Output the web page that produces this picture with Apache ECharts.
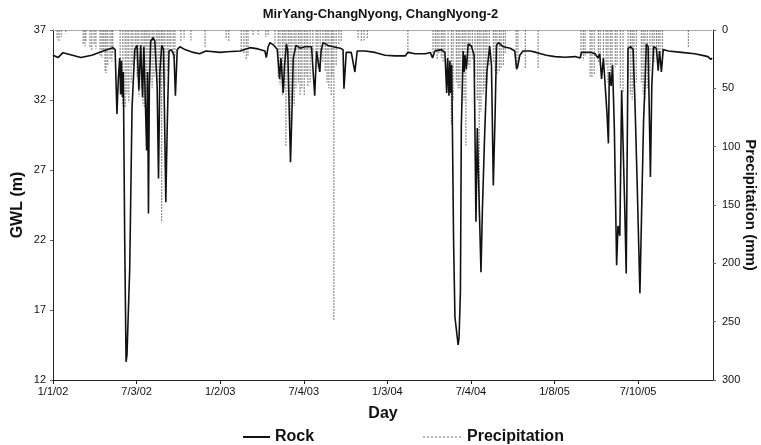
<!DOCTYPE html>
<html>
<head>
<meta charset="utf-8">
<script src="https://cdn.jsdelivr.net/npm/echarts@6/dist/echarts.min.js"></script>
<style>html,body{margin:0;padding:0;background:#fff}#c{width:761px;height:445px}</style>
</head>
<body>
<div id="c"></div>
<script>
// Day index (0 = 1/1/02) for each labelled tick, and its label
const TICK_STEP = 183;
const TICK_LABELS = ['1/1/02','7/3/02','1/2/03','7/4/03','1/3/04','7/4/04','1/8/05','7/10/05'];
const DAY_MAX = 1445;
const GWL_TICKS = [12, 17, 22, 27, 32, 37];
const PRECIP_TICKS = [0, 50, 100, 150, 200, 250, 300];

// Rock groundwater level (m): [day index, GWL]
const ROCK = [[0,35.2],[11,35.03],[22,35.38],[61,35.03],[85,35.2],[110,35.5],[131,35.74],[136,35.6],[140,31.0],[143,33.5],[146,35.0],[148,32.4],[150,34.8],[152,32.2],[154,34.0],[157,22.0],[160,13.3],[162,13.8],[168,20.0],[173,31.4],[179,35.6],[184,35.9],[188,32.7],[192,35.9],[196,32.2],[199,35.8],[205,28.4],[207,34.0],[209,23.9],[211,33.0],[214,36.2],[219,36.45],[223,36.2],[228,33.0],[231,26.4],[234,34.0],[238,35.9],[242,35.6],[247,24.7],[250,30.0],[254,35.5],[259,35.6],[265,35.2],[268,32.3],[272,35.6],[278,35.8],[289,35.6],[307,35.4],[321,35.3],[335,35.5],[366,35.4],[381,35.45],[410,35.5],[431,35.74],[449,35.65],[464,35.5],[467,35.03],[471,35.8],[475,36.1],[484,35.9],[491,35.6],[496,33.5],[499,35.0],[504,32.5],[507,34.5],[511,36.0],[514,35.5],[520,27.55],[523,31.0],[526,35.0],[532,35.9],[541,35.7],[552,35.8],[566,35.8],[573,32.3],[577,35.5],[584,34.0],[587,35.5],[591,36.1],[602,35.9],[613,35.8],[629,35.7],[635,35.6],[637,32.8],[642,35.4],[653,35.4],[661,34.0],[666,35.5],[683,35.5],[705,35.4],[727,35.2],[749,35.15],[771,35.15],[777,35.4],[793,35.3],[815,35.3],[826,35.4],[831,35.0],[836,35.5],[850,35.6],[858,35.4],[862,32.5],[864,35.0],[867,32.3],[869,34.8],[871,32.5],[873,34.5],[877,22.0],[880,16.5],[887,14.5],[889,15.0],[892,18.3],[894,30.2],[898,35.5],[900,34.0],[902,35.2],[905,34.2],[909,36.0],[916,35.86],[922,35.2],[926,23.3],[929,30.0],[932,26.0],[937,19.7],[940,24.0],[945,29.5],[950,34.0],[956,35.86],[960,34.5],[964,25.9],[968,31.0],[971,35.9],[975,36.1],[986,35.8],[1001,35.7],[1011,35.5],[1015,34.2],[1018,34.5],[1022,35.2],[1029,35.5],[1045,35.5],[1058,35.4],[1080,35.2],[1099,35.1],[1121,35.05],[1143,35.1],[1154,35.0],[1157,35.4],[1178,35.4],[1187,35.3],[1193,35.0],[1197,35.3],[1201,33.5],[1205,35.0],[1208,35.1],[1213,31.0],[1216,28.9],[1218,34.0],[1222,33.0],[1225,34.5],[1229,30.0],[1234,20.2],[1237,23.0],[1241,22.3],[1245,32.7],[1248,29.0],[1252,24.0],[1255,19.6],[1259,35.7],[1265,35.8],[1270,35.6],[1274,32.0],[1279,26.0],[1285,18.2],[1290,26.0],[1293,30.5],[1296,33.0],[1299,36.0],[1303,35.8],[1308,26.5],[1311,33.0],[1315,35.8],[1321,35.7],[1325,34.1],[1328,35.5],[1332,34.0],[1336,35.6],[1347,35.5],[1376,35.4],[1405,35.3],[1427,35.15],[1434,35.1],[1440,34.9],[1443,35.0]];

// Daily precipitation (mm) on rainy days: [day index, mm]
const PRECIP = [[9,8],[13,10],[18,6],[28,3],[66,12],[70,14],[72,10],[81,15],[85,17],[90,12],[94,16],[103,22],[107,24],[110,18],[114,35],[116,37],[120,30],[125,25],[129,27],[131,20],[147,40],[153,65],[158,67],[162,55],[166,62],[171,45],[175,30],[180,25],[184,40],[188,57],[193,50],[197,65],[201,66],[204,55],[208,60],[212,45],[217,50],[221,40],[226,35],[230,45],[234,50],[238,165],[241,40],[245,48],[250,35],[254,20],[258,15],[263,24],[267,22],[280,10],[287,8],[302,9],[333,15],[379,8],[385,10],[412,18],[418,20],[423,26],[427,22],[438,5],[449,4],[466,6],[471,5],[486,12],[493,40],[497,47],[502,56],[506,50],[510,100],[515,55],[519,81],[523,60],[528,65],[532,50],[537,45],[541,56],[545,50],[550,56],[554,40],[558,48],[563,45],[569,25],[576,20],[580,32],[585,35],[591,28],[596,35],[600,45],[604,50],[609,56],[611,40],[615,249],[620,30],[626,12],[631,10],[668,8],[675,10],[681,9],[688,7],[777,20],[832,22],[837,18],[841,25],[845,20],[850,24],[854,27],[858,22],[865,35],[872,81],[876,60],[883,45],[887,50],[891,50],[896,40],[900,60],[904,99],[909,30],[913,32],[918,25],[924,40],[929,60],[933,160],[937,70],[942,55],[946,50],[950,45],[955,30],[964,28],[968,35],[972,38],[977,36],[981,33],[986,30],[990,20],[1014,30],[1018,33],[1034,33],[1062,33],[1156,24],[1161,26],[1165,22],[1176,40],[1180,41],[1185,38],[1194,28],[1198,30],[1205,25],[1211,30],[1215,45],[1220,40],[1224,35],[1231,32],[1235,30],[1242,50],[1248,53],[1259,40],[1264,55],[1268,60],[1272,50],[1277,45],[1288,45],[1292,55],[1296,60],[1301,50],[1307,35],[1312,25],[1316,28],[1321,22],[1325,27],[1329,20],[1334,25],[1391,15]];

const FONT = '"Liberation Sans", Arial, sans-serif';
let dotted = 'path://';
for (let i = 0; i < 10; i++) dotted += 'M' + (i * 4) + ' 0h2v1h-2z ';
const TICK_X = TICK_LABELS.map(function (_, i) { return i * TICK_STEP; });

const chart = echarts.init(document.getElementById('c'), null, {renderer: 'canvas'});
chart.setOption({
  animation: false,
  backgroundColor: '#fff',
  title: {
    text: 'MirYang-ChangNyong, ChangNyong-2',
    left: 'center', top: 3,
    textStyle: {fontFamily: FONT, fontSize: 13, fontWeight: 'bold', color: '#111'}
  },
  legend: [
    {
      data: [{name: 'Rock', icon: 'path://M0 0H27V2H0Z'}],
      left: 238, top: 424, itemWidth: 27, itemHeight: 2, itemGap: 5,
      textStyle: {fontFamily: FONT, fontSize: 16, fontWeight: 'bold', color: '#111'}
    },
    {
      data: [{name: 'Precipitation', icon: dotted}],
      left: 418, top: 424, itemWidth: 40, itemHeight: 1, itemGap: 5,
      textStyle: {fontFamily: FONT, fontSize: 16, fontWeight: 'bold', color: '#111'}
    }
  ],
  grid: {left: 53, right: 48, top: 30, bottom: 65, containLabel: false, outerBoundsMode: 'none'},
  xAxis: [
    {
      type: 'value', min: 0, max: DAY_MAX, interval: TICK_STEP,
      name: 'Day', nameLocation: 'middle', nameGap: 26, nameMoveOverlap: false,
      nameTextStyle: {fontFamily: FONT, fontSize: 16, fontWeight: 'bold', color: '#111'},
      axisLine: {onZero: false, lineStyle: {color: '#222', width: 1}},
      axisTick: {show: true, length: 4, lineStyle: {color: '#222'}, customValues: TICK_X},
      minorTick: {show: false},
      splitLine: {show: false},
      axisLabel: {
        fontFamily: FONT, fontSize: 11, color: '#111', margin: 6,
        customValues: TICK_X,
        formatter: function (v) {
          const i = Math.round(v / TICK_STEP);
          return TICK_LABELS[i] || '';
        }
      }
    },
    {
      type: 'value', min: 0, max: DAY_MAX, position: 'top',
      axisLine: {show: true, onZero: false, lineStyle: {color: '#999', type: [1, 1], width: 1}},
      axisTick: {show: false}, axisLabel: {show: false}, splitLine: {show: false}
    }
  ],
  yAxis: [
    {
      type: 'value', min: 12, max: 37, interval: 5, position: 'left',
      name: 'GWL (m)', nameLocation: 'middle', nameGap: 27, nameMoveOverlap: false,
      nameTextStyle: {fontFamily: FONT, fontSize: 16, fontWeight: 'bold', color: '#111'},
      axisLine: {show: true, onZero: false, lineStyle: {color: '#222', width: 1}},
      axisTick: {show: true, length: 3, lineStyle: {color: '#666'}, customValues: GWL_TICKS},
      minorTick: {show: false},
      splitLine: {show: false},
      axisLabel: {fontFamily: FONT, fontSize: 11, color: '#111', margin: 7, customValues: GWL_TICKS}
    },
    {
      type: 'value', min: 0, max: 300, interval: 50, inverse: true, position: 'right',
      name: 'Precipitation (mm)', nameLocation: 'middle', nameGap: 30, nameRotate: -90, nameMoveOverlap: false,
      nameTextStyle: {fontFamily: FONT, fontSize: 15, fontWeight: 'bold', color: '#111'},
      axisLine: {show: true, onZero: false, lineStyle: {color: '#222', width: 1}},
      axisTick: {show: true, length: 3, lineStyle: {color: '#666'}, customValues: PRECIP_TICKS},
      minorTick: {show: false},
      splitLine: {show: false},
      axisLabel: {fontFamily: FONT, fontSize: 11, color: '#111', margin: 9, customValues: PRECIP_TICKS}
    }
  ],
  series: [
    {
      name: 'Precipitation', type: 'custom', xAxisIndex: 0, yAxisIndex: 1,
      itemStyle: {color: '#777'},
      encode: {x: 0, y: 1},
      renderItem: function (params, api) {
        const d = api.value(0), v = api.value(1);
        const p0 = api.coord([d, 0]);
        const p1 = api.coord([d, v]);
        return {
          type: 'line',
          shape: {x1: p0[0], y1: p0[1], x2: p1[0], y2: p1[1]},
          style: {stroke: '#777', lineWidth: 1, lineDash: [2, 1]}
        };
      },
      data: PRECIP,
      z: 1
    },
    {
      name: 'Rock', type: 'line', xAxisIndex: 0, yAxisIndex: 0,
      data: ROCK, showSymbol: false, symbol: 'none',
      lineStyle: {color: '#111', width: 1.6},
      itemStyle: {color: '#111'},
      z: 3
    }
  ]
});
</script>
</body>
</html>
